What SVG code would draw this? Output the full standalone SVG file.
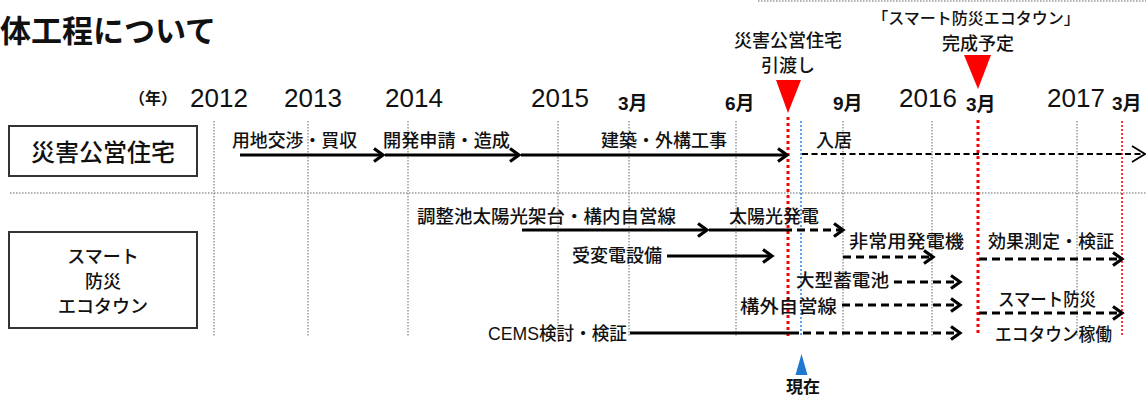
<svg xmlns="http://www.w3.org/2000/svg" width="1146" height="396" viewBox="0 0 1146 396">
<style>
text{font-family:"Liberation Sans","Noto Sans CJK JP",sans-serif;fill:#111}
.jp{font-family:"Noto Sans CJK JP",sans-serif;font-size:18px;font-weight:500}
.yr{font-size:26px}
.mo{font-size:19px;font-weight:bold}
.grid{stroke:#999;stroke-width:1.5;stroke-dasharray:1.5 1.5;fill:none}
.red{stroke:#ff0000;stroke-width:3;stroke-dasharray:3 3;fill:none}
.red2{stroke:#ff0000;stroke-width:1.6;stroke-dasharray:2 2;fill:none}
.blue{stroke:#2e86de;stroke-width:1.5;stroke-dasharray:2 2;fill:none}
.sol{stroke:#000;stroke-width:3.2;fill:none}
.dsh{stroke:#000;stroke-width:3.2;stroke-dasharray:8 5;fill:none}
.thin{stroke:#000;stroke-width:1.8;stroke-dasharray:6 3.5;fill:none}
.box{fill:#fff;stroke:#333;stroke-width:2}
</style>
<defs>
<marker id="ah" markerUnits="userSpaceOnUse" markerWidth="14" markerHeight="16" refX="11" refY="8" orient="auto" overflow="visible">
<path d="M2,1.5 L11,8 L2,14.5" fill="none" stroke="#000" stroke-width="3.2" stroke-dasharray="none"/>
</marker>
<marker id="ah2" markerUnits="userSpaceOnUse" markerWidth="16" markerHeight="18" refX="13" refY="9" orient="auto" overflow="visible">
<path d="M0,1 L13,9 L0,17" fill="none" stroke="#000" stroke-width="1.8" stroke-dasharray="none"/>
</marker>
</defs>

<text x="0" y="42" class="jp" style="font-size:31px;font-weight:bold">体工程について</text>
<line x1="758" y1="1" x2="1146" y2="1" class="grid"/>

<g id="axis">
<text x="129" y="104" class="jp" style="font-size:16px;font-weight:bold">（年）</text>
<text x="190" y="107" class="yr">2012</text>
<text x="284" y="107" class="yr">2013</text>
<text x="385" y="107" class="yr">2014</text>
<text x="531" y="107" class="yr">2015</text>
<text x="618" y="110" class="mo">3月</text>
<text x="725" y="110" class="mo">6月</text>
<text x="833" y="110" class="mo">9月</text>
<text x="899" y="107" class="yr">2016</text>
<text x="966" y="111" class="mo">3月</text>
<text x="1047" y="107" class="yr">2017</text>
<text x="1112" y="110" class="mo">3月</text>
</g>

<g id="grid">
<line x1="214" y1="121" x2="214" y2="337" class="grid"/>
<line x1="308" y1="121" x2="308" y2="337" class="grid"/>
<line x1="408" y1="121" x2="408" y2="337" class="grid"/>
<line x1="558" y1="121" x2="558" y2="337" class="grid"/>
<line x1="629" y1="121" x2="629" y2="337" class="grid"/>
<line x1="736" y1="121" x2="736" y2="337" class="grid"/>
<line x1="843" y1="121" x2="843" y2="337" class="grid"/>
<line x1="932" y1="121" x2="932" y2="337" class="grid"/>
<line x1="1077" y1="121" x2="1077" y2="337" class="grid"/>
<line x1="10" y1="193" x2="1146" y2="193" class="grid"/>
<line x1="788" y1="117" x2="788" y2="336" class="red"/>
<line x1="978" y1="120" x2="978" y2="336" class="red"/>
<line x1="1122" y1="121" x2="1122" y2="336" class="red2"/>
<line x1="801" y1="121" x2="801" y2="336" class="blue"/>
</g>

<g id="box-housing">
<rect x="9" y="126" width="188" height="50" class="box"/>
<text x="103" y="161" class="jp" text-anchor="middle" style="font-size:24px">災害公営住宅</text>
</g>
<g id="box-ecotown">
<rect x="9" y="232" width="188" height="96" class="box"/>
<text x="103" y="263" class="jp" text-anchor="middle">スマート</text>
<text x="103" y="288" class="jp" text-anchor="middle">防災</text>
<text x="103" y="313" class="jp" text-anchor="middle">エコタウン</text>
</g>

<g id="milestone-handover">
<polygon points="776,80 801,80 788,113" fill="#ff0000"/>
<text x="788" y="47" class="jp" text-anchor="middle" style="font-size:18px">災害公営住宅</text>
<text x="788" y="72" class="jp" text-anchor="middle" style="font-size:18px">引渡し</text>
</g>
<g id="milestone-complete">
<polygon points="964,55 991,55 978,89" fill="#ff0000"/>
<text x="976" y="24" class="jp" text-anchor="middle" style="font-size:16px">「スマート防災エコタウン」</text>
<text x="978" y="50" class="jp" text-anchor="middle" style="font-size:18px">完成予定</text>
</g>
<g id="now">
<polygon points="795.5,375 807.5,375 801.5,354" fill="#1f78d1"/>
<text x="803" y="393" class="jp" text-anchor="middle" style="font-weight:bold;font-size:17px">現在</text>
</g>

<g id="labels" class="jp">
<text x="232" y="147" textLength="125" lengthAdjust="spacingAndGlyphs">用地交渉・買収</text>
<text x="383" y="147" textLength="127" lengthAdjust="spacingAndGlyphs">開発申請・造成</text>
<text x="601" y="147" textLength="126" lengthAdjust="spacingAndGlyphs">建築・外構工事</text>
<text x="816" y="147">入居</text>
<text x="417" y="223" textLength="259" lengthAdjust="spacingAndGlyphs">調整池太陽光架台・構内自営線</text>
<text x="729" y="223">太陽光発電</text>
<text x="572" y="262">受変電設備</text>
<text x="849" y="248" textLength="115" lengthAdjust="spacingAndGlyphs">非常用発電機</text>
<text x="988" y="248" textLength="126" lengthAdjust="spacingAndGlyphs">効果測定・検証</text>
<text x="796" y="287" textLength="93" lengthAdjust="spacingAndGlyphs">大型蓄電池</text>
<text x="740" y="313" textLength="97" lengthAdjust="spacingAndGlyphs">構外自営線</text>
<text x="488" y="340" textLength="139" lengthAdjust="spacingAndGlyphs">CEMS検討・検証</text>
<text x="998" y="306" textLength="98" lengthAdjust="spacingAndGlyphs">スマート防災</text>
<text x="995" y="341" textLength="117" lengthAdjust="spacingAndGlyphs">エコタウン稼働</text>
</g>

<g id="connectors">
<line x1="240" y1="155" x2="383" y2="155" class="sol" marker-end="url(#ah)"/>
<line x1="385" y1="155" x2="519" y2="155" class="sol" marker-end="url(#ah)"/>
<line x1="521" y1="155" x2="787" y2="155" class="sol" marker-end="url(#ah)"/>
<line x1="802" y1="154" x2="1145" y2="154" class="thin" marker-end="url(#ah2)"/>
<line x1="522" y1="230" x2="707" y2="230" class="sol" marker-end="url(#ah)"/>
<line x1="709" y1="230" x2="792" y2="230" class="sol"/>
<line x1="797" y1="230" x2="843" y2="230" class="dsh" marker-end="url(#ah)"/>
<line x1="667" y1="256" x2="772" y2="256" class="sol" marker-end="url(#ah)"/>
<line x1="843" y1="257" x2="933" y2="257" class="dsh" marker-end="url(#ah)"/>
<line x1="979" y1="259" x2="1122" y2="259" class="dsh" marker-end="url(#ah)"/>
<line x1="894" y1="282" x2="960" y2="282" class="dsh" marker-end="url(#ah)"/>
<line x1="842" y1="305" x2="960" y2="305" class="dsh" marker-end="url(#ah)"/>
<line x1="630" y1="333" x2="799" y2="333" class="sol"/>
<line x1="803" y1="333" x2="960" y2="333" class="dsh" marker-end="url(#ah)"/>
<line x1="979" y1="313" x2="1122" y2="313" class="dsh" marker-end="url(#ah)"/>
</g>
</svg>
